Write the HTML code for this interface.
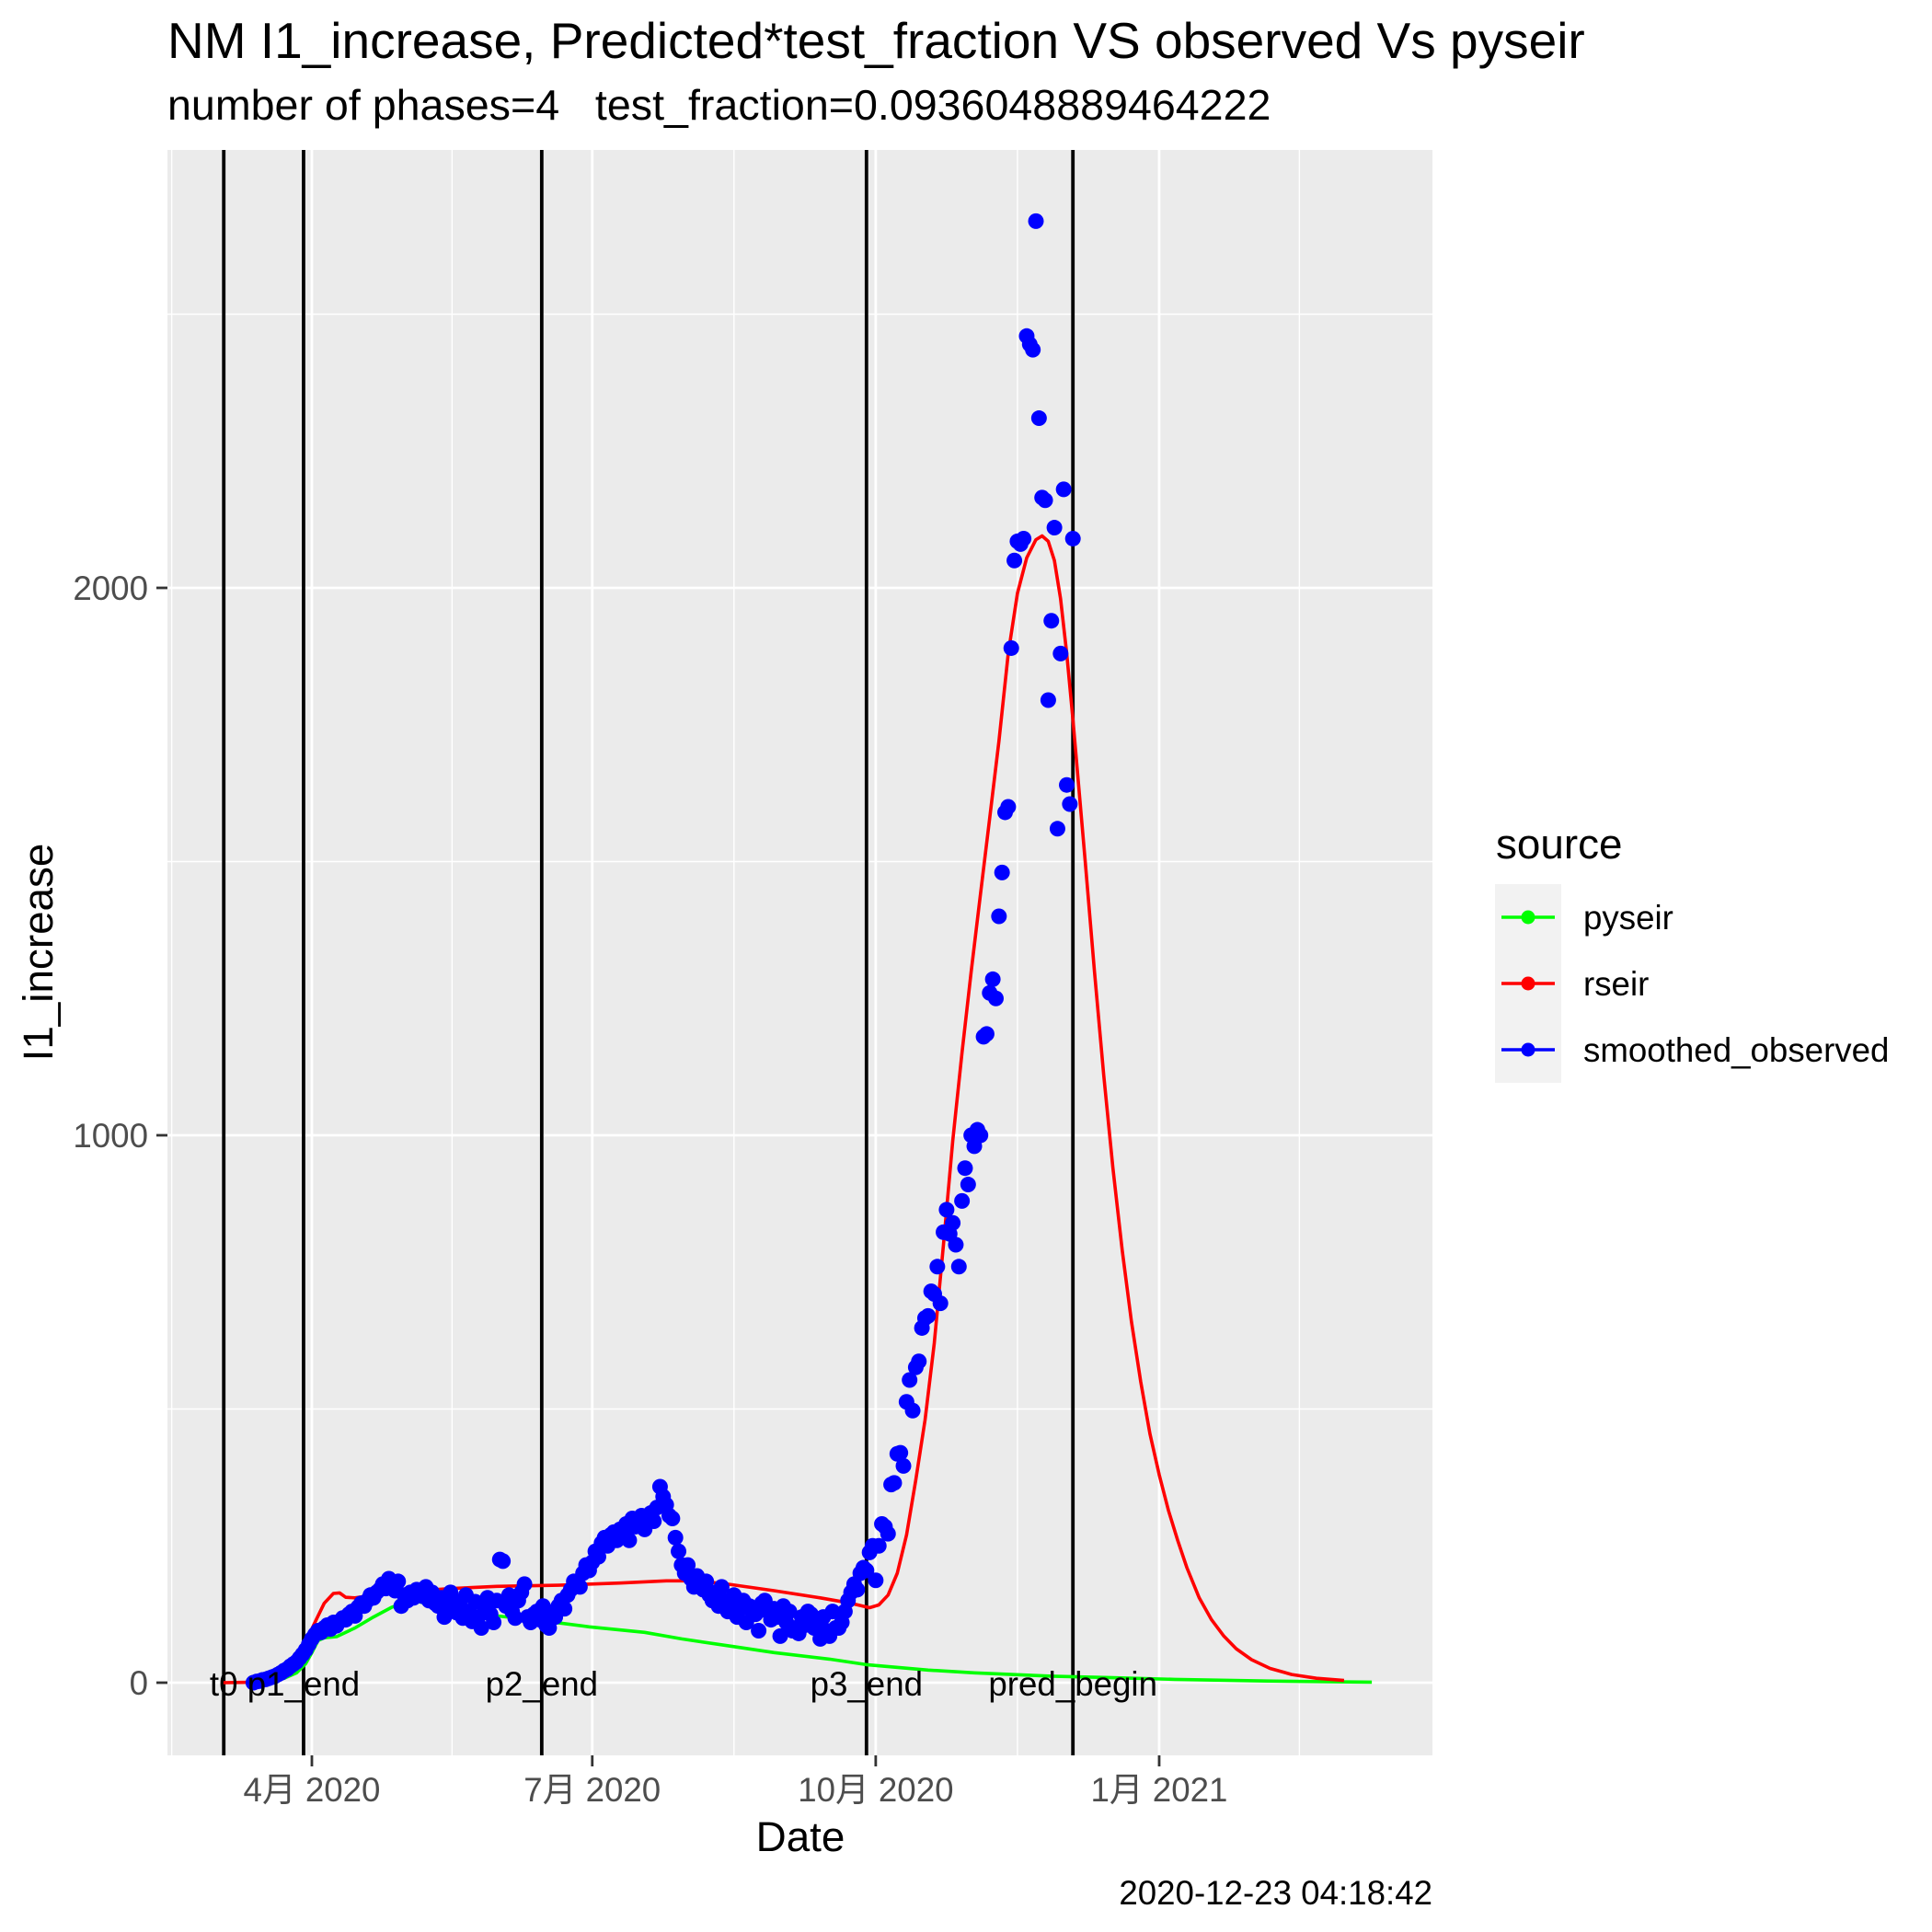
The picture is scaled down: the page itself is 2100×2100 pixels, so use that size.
<!DOCTYPE html>
<html><head><meta charset="utf-8"><style>
html,body{margin:0;padding:0;background:#fff}
svg{display:block}
text{font-family:"Liberation Sans","Noto Sans CJK SC",sans-serif}
</style></head><body>
<svg id="chart" width="2100" height="2100" viewBox="0 0 2100 2100" xmlns="http://www.w3.org/2000/svg">
<rect x="0" y="0" width="2100" height="2100" fill="#fff"/>
<text x="182" y="63" font-size="55" fill="#000">NM I1_increase, Predicted*test_fraction VS observed Vs pyseir</text>
<text x="182" y="130" font-size="46.6" fill="#000" xml:space="preserve">number of phases=4   test_fraction=0.0936048889464222</text>
<rect x="182" y="163" width="1375" height="1745" fill="#EBEBEB"/>
<g id="grid"></g>
<g id="series"></g>
<g id="axes"></g>
<text transform="translate(57,1035) rotate(-90)" text-anchor="middle" font-size="45.8" fill="#000">I1_increase</text>
<text x="870" y="2012" text-anchor="middle" font-size="45.8" fill="#000">Date</text>
<text x="1557" y="2070" text-anchor="end" font-size="36.7" fill="#000">2020-12-23 04:18:42</text>
<g>
<text x="1626" y="933" font-size="45.8" fill="#000">source</text>
<rect x="1625" y="961" width="72" height="216" fill="#F2F2F2"/>
<g>
<line x1="1632" y1="997" x2="1690" y2="997" stroke="#00FF00" stroke-width="3.5"/>
<circle cx="1661" cy="997" r="7.5" fill="#00FF00"/>
<text x="1721" y="1010" font-size="36.7" fill="#000">pyseir</text></g>
<g>
<line x1="1632" y1="1069" x2="1690" y2="1069" stroke="#FF0000" stroke-width="3.5"/>
<circle cx="1661" cy="1069" r="7.5" fill="#FF0000"/>
<text x="1721" y="1082" font-size="36.7" fill="#000">rseir</text></g>
<g>
<line x1="1632" y1="1141" x2="1690" y2="1141" stroke="#0000FF" stroke-width="3.5"/>
<circle cx="1661" cy="1141" r="7.5" fill="#0000FF"/>
<text x="1721" y="1154" font-size="36.7" fill="#000">smoothed_observed</text></g>
</g>
</svg>
<script>
// ---- data (day offsets relative to 2020-04-01) ----
const obsStartDay = -19; // 2020-03-13
const obsValues = [
0,2,3,5,6,8,10,12,15,18,
22,25,30,34,38,45,52,60,70,80,
88,95,92,100,105,98,110,104,112,118,
115,125,130,122,138,145,140,150,160,155,
165,170,180,172,190,178,168,185,140,160,
150,165,155,170,160,158,175,150,165,145,
140,155,120,135,165,150,128,142,118,160,
130,112,148,120,100,138,155,125,110,150,
225,222,140,160,130,118,150,165,180,120,
110,125,130,115,140,105,100,128,120,140,
150,135,160,170,185,180,175,200,215,205,
220,240,230,255,265,250,270,275,260,280,
275,290,260,300,285,295,305,280,300,310,
295,320,358,340,325,305,300,265,240,215,
200,215,190,175,195,180,170,185,160,150,
165,140,175,150,130,145,160,120,135,150,
110,140,130,125,95,145,150,130,115,135,
120,85,140,110,130,95,100,90,120,105,
130,125,100,110,80,120,95,85,130,100,
100,110,130,150,165,180,170,200,210,205,
238,250,187,250,290,285,272,362,365,418,
420,396,513,553,497,576,587,648,666,670,
715,710,760,693,823,864,820,840,800,760,
880,940,910,1000,980,1010,1000,1180,1185,1260,
1285,1250,1400,1480,1590,1600,1890,2050,2085,2080,2090,2460,
2445,2435,2670,2310,2165,2160,1795,1940,2110,1560,
1880,2180,1640,1605,2090];
const rseirDays = [-29,-18,-12,-7,-4,-2,1,4,7,9,11,14,20,30,45,60,80,100,115,125,135,150,165,175,181,184,187,190,193,196,199,202,205,208,211,214,217,220,223,226,229,232,235,237,239,241,243,245,247,249,251,254,257,260,263,266,269,272,275,278,281,284,288,292,296,300,305,311,318,326,335];
const rseirValues = [0,1,6,20,45,75,110,145,163,164,156,155,160,166,172,176,178,182,186,186,180,168,155,145,137,142,160,200,270,370,480,620,800,990,1150,1300,1440,1580,1720,1880,1990,2055,2088,2095,2085,2050,1980,1880,1760,1630,1500,1300,1110,940,790,660,550,455,380,315,260,210,155,115,85,62,42,26,15,8,4];
const pyseirDays = [-19,-14,-9,-5,-2,0,2,4,8,14,20,26,31,34,40,50,60,75,90,108,120,138,150,168,180,200,215,240,260,280,310,344];
const pyseirValues = [0,3,8,18,35,55,77,82,84,100,120,138,148,149,140,129,122,113,102,92,80,65,55,43,33,23,18,12,9,6,3,1];
const phaseNames = ["t0","p1_end","p2_end","p3_end","pred_begin"];
const phaseDays = [-28.6,-2.7,74.6,180,247];
const xTickLabels = ["4月 2020","7月 2020","10月 2020","1月 2021"];
const xTickDays = [0,91,183,275];
const xMinorDays = [-45.5,45.5,137,229,320.5];
const yTickLabels = ["0","1000","2000"];
const yTickValues = [0,1000,2000];
const yMinorValues = [500,1500,2500];

// ---- scales ----
const X0 = 339, PX_PER_DAY = 3.349;
const Y0 = 1829, PX_PER_UNIT = 0.595;
const PL = 182, PR = 1557, PT = 163, PB = 1908;
function xs(d){ return X0 + d*PX_PER_DAY; }
function ys(v){ return Y0 - v*PX_PER_UNIT; }
const NS = "http://www.w3.org/2000/svg";
function mk(tag, attrs, parent){
  const el = document.createElementNS(NS, tag);
  for (const k in attrs) el.setAttribute(k, attrs[k]);
  parent.appendChild(el);
  return el;
}
const grid = document.getElementById('grid');
const series = document.getElementById('series');
const axes = document.getElementById('axes');

yMinorValues.forEach(v=>{
  const l = mk('line',{x1:PL,x2:PR,y1:ys(v),y2:ys(v),stroke:'#fff','stroke-width':1.4},grid);
  
  
});
xMinorDays.forEach(d=>{
  const l = mk('line',{x1:xs(d),x2:xs(d),y1:PT,y2:PB,stroke:'#fff','stroke-width':1.4},grid);
  
  
});
yTickValues.forEach(v=>{
  const l = mk('line',{x1:PL,x2:PR,y1:ys(v),y2:ys(v),stroke:'#fff','stroke-width':2.8},grid);
  
  
});
xTickDays.forEach(d=>{
  const l = mk('line',{x1:xs(d),x2:xs(d),y1:PT,y2:PB,stroke:'#fff','stroke-width':2.8},grid);
  
  
});

// phase lines
phaseDays.forEach((d,i)=>{
  const l = mk('line',{x1:xs(d),x2:xs(d),y1:PT,y2:PB,stroke:'#000','stroke-width':3.8},series);
  
  
});

function pathFrom(days, vals){
  let s = '';
  for (let i=0;i<days.length;i++) s += (i?'L':'M') + xs(days[i]).toFixed(1) + ',' + ys(vals[i]).toFixed(1);
  return s;
}
const g1 = mk('path',{d:pathFrom(pyseirDays,pyseirValues),fill:'none',stroke:'#00FF00','stroke-width':3.6,'stroke-linejoin':'round'},series);


const r1 = mk('path',{d:pathFrom(rseirDays,rseirValues),fill:'none',stroke:'#FF0000','stroke-width':3.6,'stroke-linejoin':'round'},series);



obsValues.forEach((v,i)=>{
  const c = mk('circle',{cx:xs(obsStartDay+i),cy:ys(v),r:8.5,fill:'#0000FF'},series);
  
  
});

phaseNames.forEach((n,i)=>{
  const t = mk('text',{x:xs(phaseDays[i]),y:1843,'text-anchor':'middle','font-size':36.7,fill:'#000'},series);
  t.textContent = n;
  
  
});

// axes ticks & labels
yTickValues.forEach((v,i)=>{
  const tk = mk('line',{x1:170,x2:PL,y1:ys(v),y2:ys(v),stroke:'#333','stroke-width':2.8},axes);
  
  
  const t = mk('text',{x:161,y:ys(v)+13,'text-anchor':'end','font-size':36.7,fill:'#4D4D4D'},axes);
  t.textContent = yTickLabels[i];
  
  
});
xTickDays.forEach((d,i)=>{
  const tk = mk('line',{x1:xs(d),x2:xs(d),y1:PB,y2:PB+12,stroke:'#333','stroke-width':2.8},axes);
  
  
  const t = mk('text',{x:xs(d),y:1958,'text-anchor':'middle','font-size':36.7,fill:'#4D4D4D'},axes);
  t.textContent = xTickLabels[i];
  
  
});
</script>
</body></html>
